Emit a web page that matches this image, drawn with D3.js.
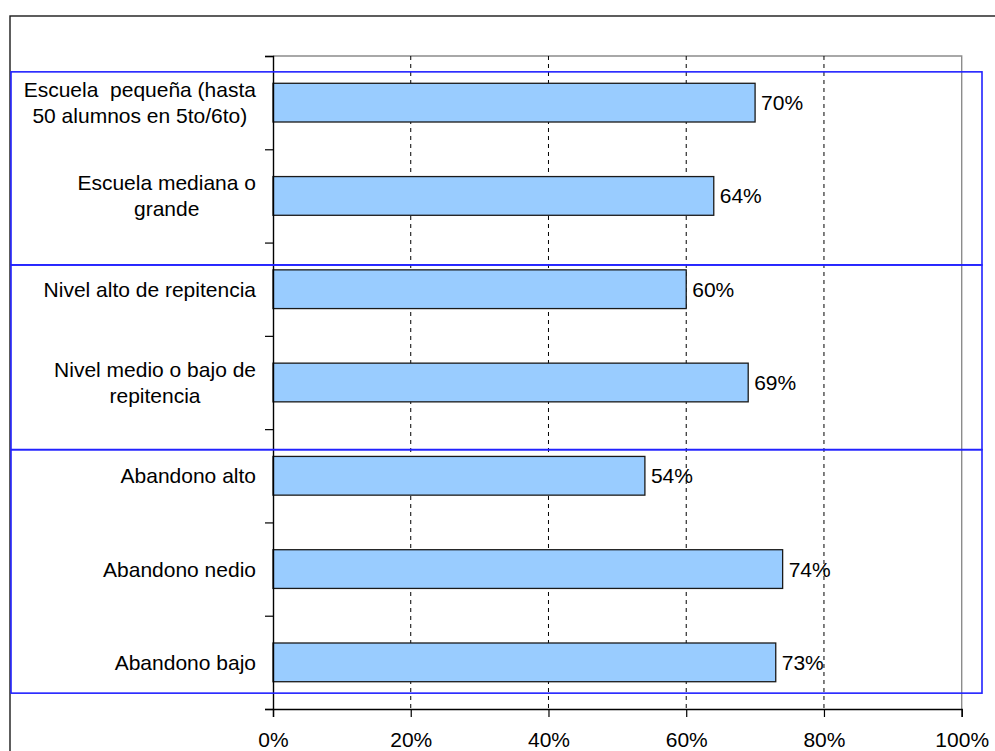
<!DOCTYPE html>
<html>
<head>
<meta charset="utf-8">
<script src="https://cdn.jsdelivr.net/npm/d3@7"></script>
<style>
  html, body { margin: 0; padding: 0; background: #fff; }
  svg { display: block; }
  text { font-family: "Liberation Sans", Arial, sans-serif; fill: #000; }
</style>
</head>
<body>
<svg id="chart" width="995" height="751"></svg>
<script>
// Category labels (line breaks mark the wrapped lines)
const categories = [
  "Escuela  pequeña (hasta\n50 alumnos en 5to/6to)",
  "Escuela mediana o\ngrande",
  "Nivel alto de repitencia",
  "Nivel medio o bajo de\nrepitencia",
  "Abandono alto",
  "Abandono nedio",
  "Abandono bajo"
];
// Share for each category
const values = [0.70, 0.64, 0.60, 0.69, 0.54, 0.74, 0.73];
// Value-axis ticks
const xTicks = [0, 0.2, 0.4, 0.6, 0.8, 1.0];
// Groups of categories framed together (first and last index)
const groups = [[0, 1], [2, 3], [4, 6]];

const svg = d3.select("#chart");
const W = 995, H = 751;
const FONT = "21px";
const plot = { left: 273, right: 961.7, top: 56, bottom: 709 };

const x = d3.scaleLinear().domain([0, 1]).range([plot.left, plot.right]);
const y = d3.scaleBand().domain(categories)
  .range([plot.top, plot.bottom])
  .paddingInner(0.585).paddingOuter(0.2925);
// continuous slot scale for slot boundaries (ticks, group frames)
const slot = d3.scaleLinear().domain([0, categories.length]).range([plot.top, plot.bottom]);

// outer chart frame
svg.append("rect")
  .attr("x", 10).attr("y", 16)
  .attr("width", W + 20).attr("height", H + 20)
  .attr("fill", "none").attr("stroke", "#1a1a1a").attr("stroke-width", 1.4);

// plot area border (top and right, grey)
svg.append("path")
  .attr("d", `M${plot.left},${plot.top}H${x(1)}V${plot.bottom}`)
  .attr("fill", "none").attr("stroke", "#8c8c8c").attr("stroke-width", 1.4);

// dashed gridlines
svg.append("g").selectAll("line")
  .data(xTicks.filter(t => t > 0 && t < 1))
  .join("line")
  .attr("x1", d => x(d)).attr("x2", d => x(d))
  .attr("y1", plot.top).attr("y2", plot.bottom)
  .attr("stroke", "#000").attr("stroke-width", 1)
  .attr("stroke-dasharray", "4,4");

// bars
svg.append("g").selectAll("rect")
  .data(values)
  .join("rect")
  .attr("x", x(0))
  .attr("y", (d, i) => y(categories[i]))
  .attr("width", d => x(d) - x(0))
  .attr("height", y.bandwidth())
  .attr("fill", "#99ccff")
  .attr("stroke", "#1a1a1a").attr("stroke-width", 1.3);

// value labels
svg.append("g").selectAll("text")
  .data(values)
  .join("text")
  .attr("x", d => x(d) + 6)
  .attr("y", (d, i) => y(categories[i]) + y.bandwidth() / 2)
  .attr("dy", "0.36em")
  .style("font-size", FONT)
  .text(d => d3.format(".0%")(d));

// category axis (tick marks at slot boundaries, no labels)
const yAxis = d3.axisLeft(slot)
  .tickValues(d3.range(categories.length + 1))
  .tickSize(8).tickFormat("");
const gy = svg.append("g").attr("transform", `translate(${plot.left},0)`).call(yAxis);
gy.select(".domain").attr("stroke", "#000").attr("stroke-width", 1.4);
gy.selectAll(".tick line").attr("stroke", "#000").attr("stroke-width", 1.2);

// value axis
const xAxis = d3.axisBottom(x).tickValues(xTicks).tickSize(8).tickFormat(d3.format(".0%"));
const gx = svg.append("g").attr("transform", `translate(0,${plot.bottom})`).call(xAxis);
gx.select(".domain").attr("stroke", "#000").attr("stroke-width", 1.4);
gx.selectAll(".tick line").attr("stroke", "#000").attr("stroke-width", 1.2);
gx.selectAll(".tick text")
  .attr("y", 38).attr("dy", 0)
  .style("font-size", FONT)
  .style("font-family", "'Liberation Sans', Arial, sans-serif")
  .attr("fill", "#000");

// category labels: wrapped lines centred within a block right-aligned to the axis
const labelRight = 256, lineGap = 26;
const lg = svg.append("g");
categories.forEach(c => {
  const lines = c.split("\n");
  const cy = y(c) + y.bandwidth() / 2;
  const t = lg.append("text").style("font-size", FONT);
  const spans = lines.map((ln, k) => t.append("tspan")
    .attr("y", cy + (k - (lines.length - 1) / 2) * lineGap)
    .attr("dy", "0.36em")
    .attr("xml:space", "preserve")
    .style("white-space", "pre")
    .text(ln));
  const widths = spans.map(s => s.node().getComputedTextLength());
  const wMax = d3.max(widths);
  spans.forEach(s => s.attr("x", labelRight - wMax / 2).attr("text-anchor", "middle"));
});

// group frames
const frameEdges = [0.17, 2.24, 4.22, 6.83]; // slot units: top, dividers, bottom
const fg = svg.append("g").attr("fill", "none").attr("stroke", "#2222ff").attr("stroke-width", 1.6);
groups.forEach((g, i) => {
  const y0 = slot(frameEdges[i]), y1 = slot(frameEdges[i + 1]);
  fg.append("rect").attr("x", 11).attr("y", y0).attr("width", 982 - 11).attr("height", y1 - y0);
});
</script>
</body>
</html>
